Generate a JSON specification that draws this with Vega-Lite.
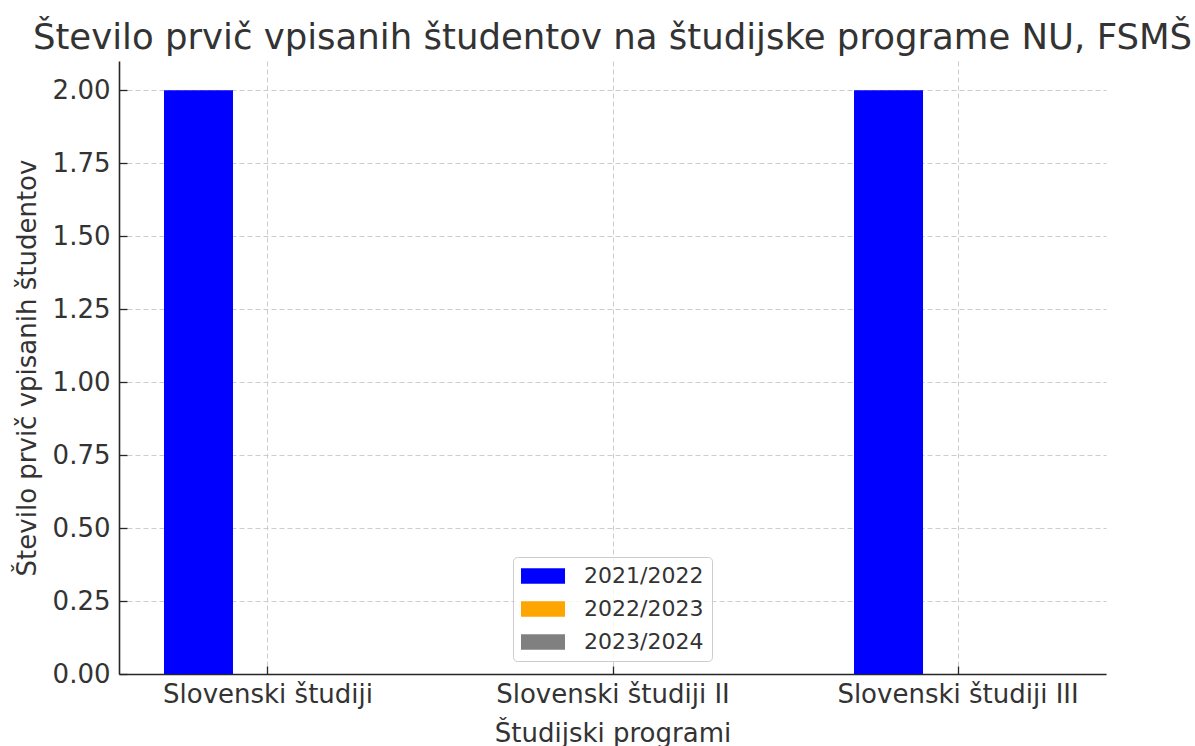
{
  "$schema": "https://vega.github.io/schema/vega-lite/v6.json",
  "width": 987,
  "height": 613,
  "autosize": "none",
  "padding": {"left": 119, "top": 61, "right": 89, "bottom": 72},
  "background": "white",
  "config": {
    "font": "DejaVu Sans",
    "view": {"stroke": null},
    "axis": {
      "labelFont": "DejaVu Sans",
      "titleFont": "DejaVu Sans",
      "labelFontSize": 26,
      "titleFontSize": 26,
      "titleFontWeight": "normal",
      "labelColor": "#333333",
      "titleColor": "#333333",
      "labelLimit": 400,
      "domainColor": "#262626",
      "domainWidth": 1.6,
      "tickColor": "#262626",
      "tickWidth": 1.3,
      "gridColor": "#cccccc",
      "gridDash": [5, 3],
      "gridWidth": 1
    },
    "legend": {
      "labelFont": "DejaVu Sans",
      "labelFontSize": 22,
      "labelColor": "#333333"
    }
  },
  "title": {
    "text": "Število prvič vpisanih študentov na študijske programe NU, FSMŠ",
    "anchor": "middle",
    "frame": "group",
    "fontSize": 35.5,
    "fontWeight": "normal",
    "font": "DejaVu Sans",
    "color": "#333333",
    "baseline": "alphabetic",
    "offset": -23
  },
  "data": {
    "values": [
      {"program": "Slovenski študiji", "year": "2021/2022", "count": 2},
      {"program": "Slovenski študiji II", "year": "2021/2022", "count": 0},
      {"program": "Slovenski študiji III", "year": "2021/2022", "count": 2},
      {"program": "Slovenski študiji", "year": "2022/2023", "count": 0},
      {"program": "Slovenski študiji II", "year": "2022/2023", "count": 0},
      {"program": "Slovenski študiji III", "year": "2022/2023", "count": 0},
      {"program": "Slovenski študiji", "year": "2023/2024", "count": 0},
      {"program": "Slovenski študiji II", "year": "2023/2024", "count": 0},
      {"program": "Slovenski študiji III", "year": "2023/2024", "count": 0}
    ]
  },
  "encoding": {
    "x": {
      "field": "program",
      "type": "nominal",
      "scale": {"type": "point", "padding": 0.4304, "domain": ["Slovenski študiji", "Slovenski študiji II", "Slovenski študiji III"]},
      "axis": {"title": "Študijski programi", "labelAngle": 0, "grid": true, "tickSize": -8, "labelPadding": 15, "titlePadding": 13}
    },
    "y": {
      "field": "count",
      "type": "quantitative",
      "scale": {"domain": [0, 2.1], "nice": false, "zero": true},
      "axis": {"title": "Število prvič vpisanih študentov", "values": [0, 0.25, 0.5, 0.75, 1, 1.25, 1.5, 1.75, 2], "format": ".2f", "grid": true, "tickSize": -8, "labelPadding": 17, "titlePadding": 12}
    },
    "color": {
      "field": "year",
      "type": "nominal",
      "scale": {"domain": ["2021/2022", "2022/2023", "2023/2024"], "range": ["#0000ff", "#ffa500", "#808080"]},
      "legend": {
        "title": null,
        "orient": "none",
        "legendX": 394,
        "legendY": 496,
        "fillColor": "rgba(255,255,255,0.8)",
        "strokeColor": "#cccccc",
        "cornerRadius": 4,
        "padding": 8,
        "symbolType": "M-1,-0.7H3V0.7H-1Z",
        "symbolSize": 484,
        "symbolStrokeWidth": 0,
        "labelOffset": 41,
        "rowPadding": 11,
        "labelLimit": 300
      }
    }
  },
  "layer": [
    {
      "transform": [{"filter": "datum.year == '2021/2022'"}],
      "mark": {"type": "bar", "width": 69, "xOffset": -69}
    },
    {
      "transform": [{"filter": "datum.year == '2022/2023'"}],
      "mark": {"type": "bar", "width": 69, "xOffset": 0}
    },
    {
      "transform": [{"filter": "datum.year == '2023/2024'"}],
      "mark": {"type": "bar", "width": 69, "xOffset": 69}
    }
  ]
}
